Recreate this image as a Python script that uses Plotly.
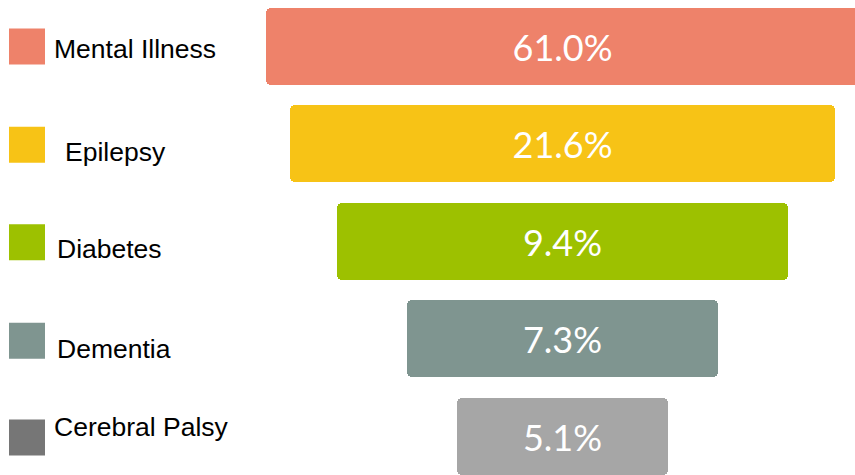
import plotly.graph_objects as go

# Conditions and their prevalence (%)
conditions = ["Mental Illness", "Epilepsy", "Diabetes", "Dementia", "Cerebral Palsy"]
prevalence = [61.0, 21.6, 9.4, 7.3, 5.1]
# Relative width of each funnel stage (widest stage = 100)
stage_width = [100.0, 91.9, 76.1, 52.4, 35.6]

bar_colors = ["#EE826A", "#F7C316", "#9DC100", "#7F9590", "#A6A6A6"]
key_colors = ["#EE826A", "#F7C316", "#9DC100", "#7F9590", "#767676"]

W, H = 855, 475
rows = list(range(len(conditions)))
labels = [f"{v:.1f}%" for v in prevalence]

# pixel geometry of the funnel
px_per_unit = 5.93
center_px = 562.5
row_pitch = 97.4
first_row_px = 46.5

x_range = [-center_px / px_per_unit, (W - center_px) / px_per_unit]
y_range = [(H - first_row_px) / row_pitch, -first_row_px / row_pitch]

fig = go.Figure()

fig.add_trace(go.Bar(
    y=rows,
    x=stage_width,
    base=[-w / 2 for w in stage_width],
    orientation="h",
    width=77 / row_pitch,
    marker=dict(color=bar_colors, line=dict(width=0), cornerradius=5),
    text=labels,
    textposition="inside",
    insidetextanchor="middle",
    textangle=0,
    textfont=dict(family="Lato", size=36, color="white"),
    hoverinfo="skip",
    showlegend=False,
))

# colour key squares on the left, nudged slightly relative to the bars
key_nudge = [0.0, 0.01, 0.01, 0.02, 0.015]
fig.add_trace(go.Scatter(
    x=[27] * len(conditions),
    y=[r + d for r, d in zip(rows, key_nudge)],
    xaxis="x2",
    mode="markers",
    marker=dict(symbol="square", size=36, color=key_colors, line=dict(width=0)),
    hoverinfo="skip",
    showlegend=False,
))

label_x = [52, 63, 55, 55, 52]
label_shift = [-2.5, -8.5, -7.5, -10.5, 9]
for r, name, lx, dy in zip(rows, conditions, label_x, label_shift):
    fig.add_annotation(
        x=lx, y=r, xref="x2", yref="y",
        text=name, showarrow=False,
        xanchor="left", yanchor="middle", yshift=dy,
        font=dict(family="Liberation Sans, Arial", size=26.5, color="black"),
    )

fig.update_layout(
    width=W, height=H,
    margin=dict(l=0, r=0, t=0, b=0),
    paper_bgcolor="white",
    plot_bgcolor="white",
    xaxis=dict(range=x_range, visible=False, fixedrange=True),
    xaxis2=dict(range=[0, W], overlaying="x", visible=False, fixedrange=True),
    yaxis=dict(range=y_range, visible=False, fixedrange=True),
    bargap=0,
)

fig.write_html("out.html")
